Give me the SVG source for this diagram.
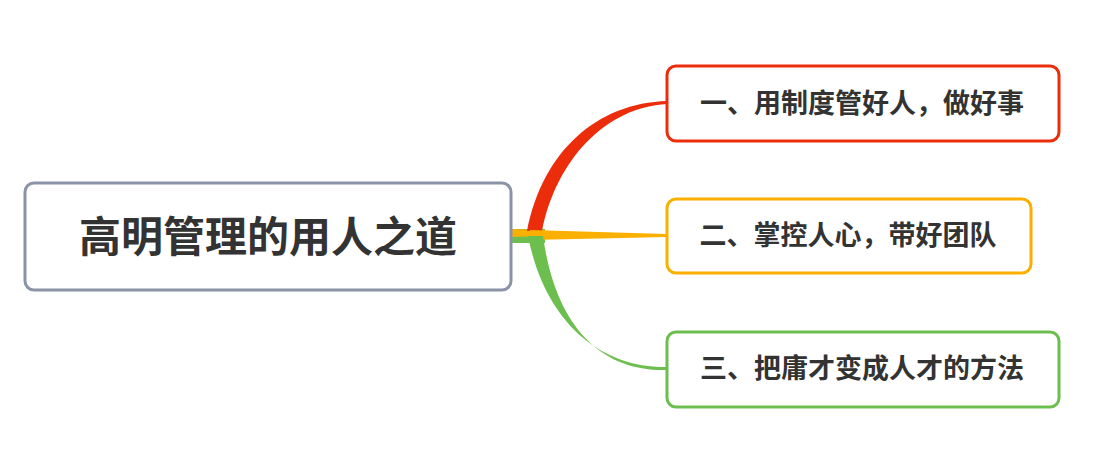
<svg xmlns="http://www.w3.org/2000/svg" width="1105" height="471" viewBox="0 0 1105 471">
<style>
.n{fill:#fff;stroke-width:3}
.t{font-family:"Liberation Sans","Noto Sans CJK SC",sans-serif;font-weight:bold;fill:#333;text-anchor:middle;dominant-baseline:central}
</style>
<rect width="1105" height="471" fill="#fff"/>
<g id="connectors">
<path d="M511,229 L545,229 L545,243 L511,243 Z" fill="#6cbf4f"/>
<path d="M511,229 L545,230 L545,236 L511,237 Z" fill="#f9b000"/>
<path d="M527,231 C543,150 598,103 667,101 L667,104 C606,107 556,160 542,231 Z" fill="#ec2d0c"/>
<path d="M530,230 L667,234 L667,237 L530,240 Z" fill="#f9b000"/>
<path d="M528,236 C545,322 600,368 667,367 L667,370 C604,372 556,330 543,236 Z" fill="#6cbf4f"/>
</g>
<g id="root"><rect class="n" x="25" y="183" width="486" height="107" rx="9" stroke="#8a94a6"/><text class="t" x="268" y="237" font-size="42">高明管理的用人之道</text></g>
<g id="n1"><rect class="n" x="667" y="66" width="392" height="75" rx="9" stroke="#ec2d0c"/><text class="t" x="862" y="104" font-size="27">一、用制度管好人，做好事</text></g>
<g id="n2"><rect class="n" x="667" y="199" width="364" height="74" rx="9" stroke="#f9b000"/><text class="t" x="848" y="236" font-size="27">二、掌控人心，带好团队</text></g>
<g id="n3"><rect class="n" x="667" y="332" width="392" height="75" rx="9" stroke="#6cbf4f"/><text class="t" x="862" y="369" font-size="27">三、把庸才变成人才的方法</text></g>
</svg>
